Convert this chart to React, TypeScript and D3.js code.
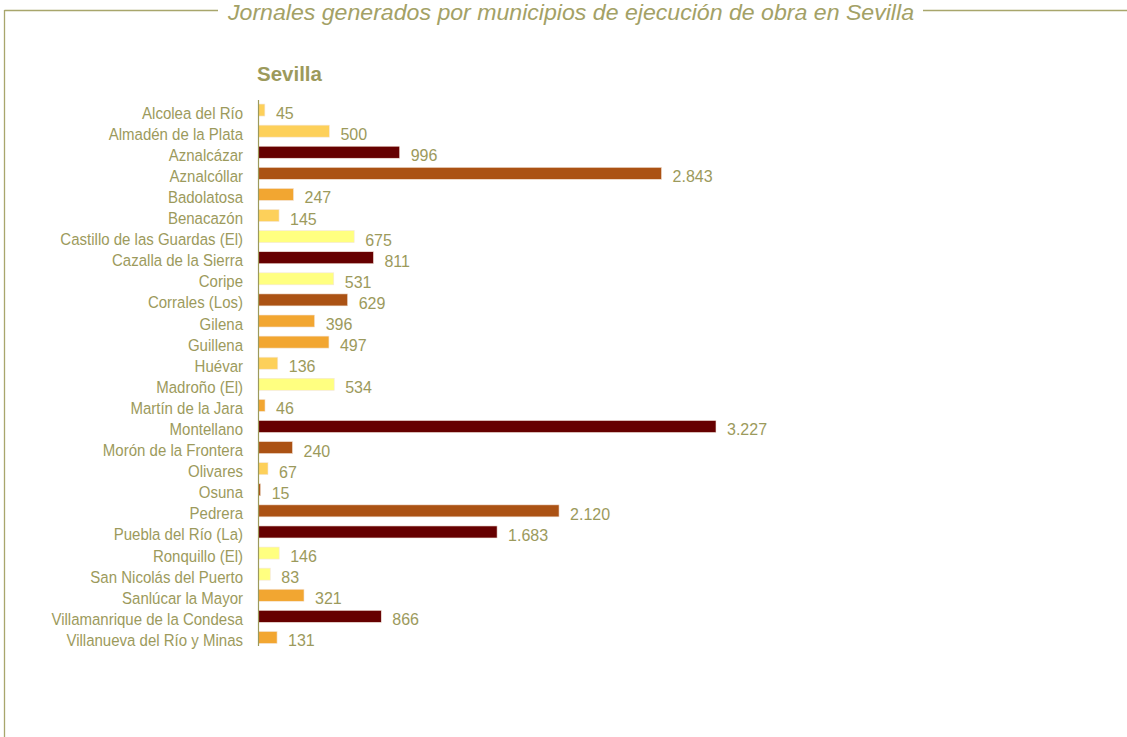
import React from "react";
import * as d3 from "d3";

const categories = [
  "Alcolea del Río", "Almadén de la Plata", "Aznalcázar", "Aznalcóllar", "Badolatosa",
  "Benacazón", "Castillo de las Guardas (El)", "Cazalla de la Sierra", "Coripe", "Corrales (Los)",
  "Gilena", "Guillena", "Huévar", "Madroño (El)", "Martín de la Jara", "Montellano",
  "Morón de la Frontera", "Olivares", "Osuna", "Pedrera", "Puebla del Río (La)", "Ronquillo (El)",
  "San Nicolás del Puerto", "Sanlúcar la Mayor", "Villamanrique de la Condesa", "Villanueva del Río y Minas",
];
const values = [45, 500, 996, 2843, 247, 145, 675, 811, 531, 629, 396, 497, 136, 534, 46, 3227, 240, 67, 15, 2120, 1683, 146, 83, 321, 866, 131];
const classes = [
  "lightOrange", "lightOrange", "darkRed", "brown", "orange", "lightOrange", "yellow", "darkRed", "yellow", "brown",
  "orange", "orange", "lightOrange", "yellow", "orange", "darkRed", "brown", "lightOrange", "brown", "brown",
  "darkRed", "yellow", "yellow", "orange", "darkRed", "orange",
];
const title = "Jornales generados por municipios de ejecución de obra en Sevilla";
const subtitle = "Sevilla";

const palette: Record<string, string> = {
  darkRed: "#660000",
  brown: "#ab5214",
  orange: "#f2a631",
  lightOrange: "#fdd05a",
  yellow: "#ffff80",
};

const fmt = (v: number) => d3.format(",")(v).replace(/,/g, ".");

export default function App() {
  const W = 1127, H = 737;
  const olive = "#9c9a5c";
  const x = d3.scaleLinear().domain([0, 3227]).range([258.5, 716]);
  const y = d3.scaleBand().domain(categories).range([99.5, 648]).paddingInner(0.43).paddingOuter(0.215);
  const font = "'Liberation Sans', Arial, sans-serif";
  return (
    <svg width={W} height={H} style={{ position: "absolute", left: 0, top: 0, background: "#fff" }}>
      <line x1={4.5} y1={10.5} x2={218} y2={10.5} stroke="#a8a66c" strokeWidth={1.3} />
      <line x1={923} y1={10.5} x2={1127} y2={10.5} stroke="#a8a66c" strokeWidth={1.3} />
      <line x1={4.5} y1={10} x2={4.5} y2={737} stroke="#a8a66c" strokeWidth={1.3} />
      <text x={571} y={20} textAnchor="middle" fontFamily={font} fontStyle="italic"
        fontSize={22} fill="#a3a166" textLength={686} lengthAdjust="spacingAndGlyphs">{title}</text>
      <text x={257} y={81} fontFamily={font} fontWeight="bold" fontSize={20.5} fill={olive}>{subtitle}</text>
      {categories.map((c, i) => {
        const yy = y(c)!;
        const bw = y.bandwidth();
        return (
          <g key={c}>
            <rect x={x(0)} y={yy} width={x(values[i]) - x(0)} height={bw} fill={palette[classes[i]]}
              stroke="#f4e6dc" strokeWidth={0.6} />
            <text transform={`translate(243,${yy + bw / 2 + 8.5}) scale(0.91,1)`} textAnchor="end"
              fontFamily={font} fontSize={16.5} fill={olive}>{c}</text>
            <text x={x(values[i]) + 11} y={yy + bw / 2 + 9} fontFamily={font} fontSize={16} fill={olive}>{fmt(values[i])}</text>
          </g>
        );
      })}
      <line x1={258.5} y1={100} x2={258.5} y2={646} stroke="#9c9a5c" strokeWidth={1.2} />
    </svg>
  );
}
